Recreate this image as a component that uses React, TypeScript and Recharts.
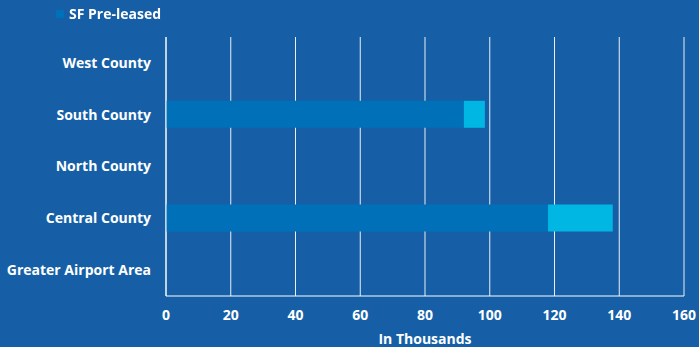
import * as React from 'react';
import { Bar, BarChart, CartesianGrid, Legend, XAxis, YAxis } from 'recharts';

const regions = ['West County', 'South County', 'North County', 'Central County', 'Greater Airport Area'];
const preLeased = [0, 92, 0, 118, 0];
const remaining = [0, 6.5, 0, 20, 0];
const xTicks = [0, 20, 40, 60, 80, 100, 120, 140, 160];

const data = regions.map((region, i) => ({
  region,
  preLeased: preLeased[i],
  remaining: remaining[i],
}));

const font = '"Open Sans", "Noto Sans", sans-serif';

function LegendContent() {
  return (
    <div style={{ display: 'flex', alignItems: 'center', fontFamily: font, fontWeight: 700, fontSize: 14, color: '#fff' }}>
      <span style={{ width: 8, height: 8, background: '#0070b8', marginRight: 5, display: 'inline-block' }} />
      SF Pre-leased
    </div>
  );
}

export default function App() {
  return (
    <div style={{ position: 'fixed', left: 0, top: 0, width: 699, height: 347, background: '#165fa7' }}>
      <BarChart
        width={699}
        height={347}
        data={data}
        layout="vertical"
        margin={{ top: 15, right: 15, bottom: 0, left: 0 }}
        style={{ fontFamily: font }}
      >
        <CartesianGrid horizontal={false} stroke="#ffffff" strokeOpacity={0.9} />
        <Legend
          verticalAlign="top"
          align="left"
          content={<LegendContent />}
          wrapperStyle={{ top: 4, left: 56, height: 22 }}
        />
        <XAxis
          type="number"
          domain={[0, 160]}
          ticks={xTicks}
          interval={0}
          tickLine={false}
          axisLine={{ stroke: '#ffffff' }}
          tickMargin={8}
          height={51}
          tick={{ fill: '#ffffff', fontSize: 14, fontWeight: 700 }}
          label={{ value: 'In Thousands', position: 'insideBottom', offset: 3, fill: '#ffffff', fontSize: 14, fontWeight: 700 }}
        />
        <YAxis
          type="category"
          dataKey="region"
          width={166}
          tickLine={false}
          axisLine={{ stroke: '#ffffff' }}
          tickMargin={9}
          interval={0}
          tick={{ fill: '#ffffff', fontSize: 14, fontWeight: 700 }}
        />
        <Bar dataKey="preLeased" name="SF Pre-leased" stackId="a" fill="#0070b8" barSize={27} isAnimationActive={false} />
        <Bar dataKey="remaining" name="SF Remaining" stackId="a" fill="#00b6e2" barSize={27} isAnimationActive={false} />
      </BarChart>
    </div>
  );
}
